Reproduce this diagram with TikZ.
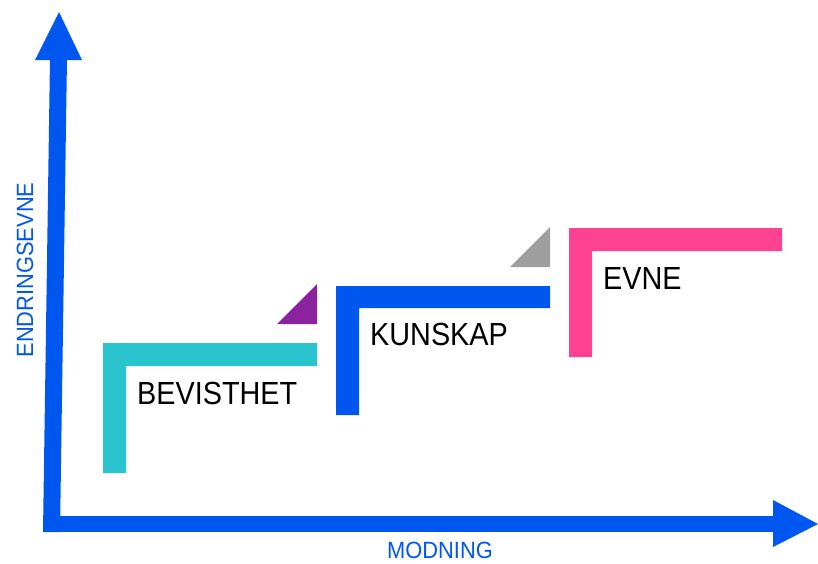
\documentclass[tikz,border=0pt]{standalone}
\usepackage{fontspec}
\setmainfont{Liberation Sans}
\newfontfamily\lblfont[FakeStretch=0.9]{Liberation Sans}
\newfontfamily\axfont[FakeStretch=0.93]{Liberation Sans}
\definecolor{axisblue}{RGB}{0,87,240}
\definecolor{stepcyan}{RGB}{41,196,206}
\definecolor{stepblue}{RGB}{0,87,240}
\definecolor{steppink}{RGB}{255,65,145}
\definecolor{trpurple}{RGB}{139,34,160}
\definecolor{trgray}{RGB}{158,158,158}
\tikzset{
  steplabel/.style={anchor=base west, inner sep=0pt, font=\lblfont\fontsize{32}{38}\selectfont, text=black},
  axislabel/.style={inner sep=0pt, font=\axfont\fontsize{23.5}{28}\selectfont, text=axisblue},
}
\begin{document}
\begin{tikzpicture}[x=1pt,y=-1pt]
\useasboundingbox (0,0) rectangle (818,563);
% axes
\fill[axisblue] (50,58) -- (67,58) -- (60,532) -- (43,532) -- cycle;
\fill[axisblue] (35,60) -- (82,60) -- (59,12) -- cycle;
\fill[axisblue] (45,516) -- (774,516) -- (774,532) -- (45,532) -- cycle;
\fill[axisblue] (773,500) -- (818,524) -- (773,547) -- cycle;
% steps
\fill[stepcyan] (103,343) -- (317,343) -- (317,366) -- (126,366) -- (126,473) -- (103,473) -- cycle;
\fill[stepblue] (336,286) -- (550,286) -- (550,308) -- (359,308) -- (359,415) -- (336,415) -- cycle;
\fill[steppink] (569,228) -- (782,228) -- (782,251) -- (592,251) -- (592,357) -- (569,357) -- cycle;
% triangles
\fill[trpurple] (277,324) -- (317,324) -- (317,284) -- cycle;
\fill[trgray] (510,267) -- (550,267) -- (550,227) -- cycle;
% labels
\node[steplabel] (bev) at (137,404) {BEVISTHET};
\node[steplabel] (kun) at (370,345) {KUNSKAP};
\node[steplabel] (evn) at (603,289) {EVNE};
\node[axislabel, anchor=base] (mod) at (440,558.5) {MODNING};
\node[axislabel, anchor=base, rotate=90] (end) at (33,270) {ENDRINGSEVNE};
\end{tikzpicture}
\end{document}
